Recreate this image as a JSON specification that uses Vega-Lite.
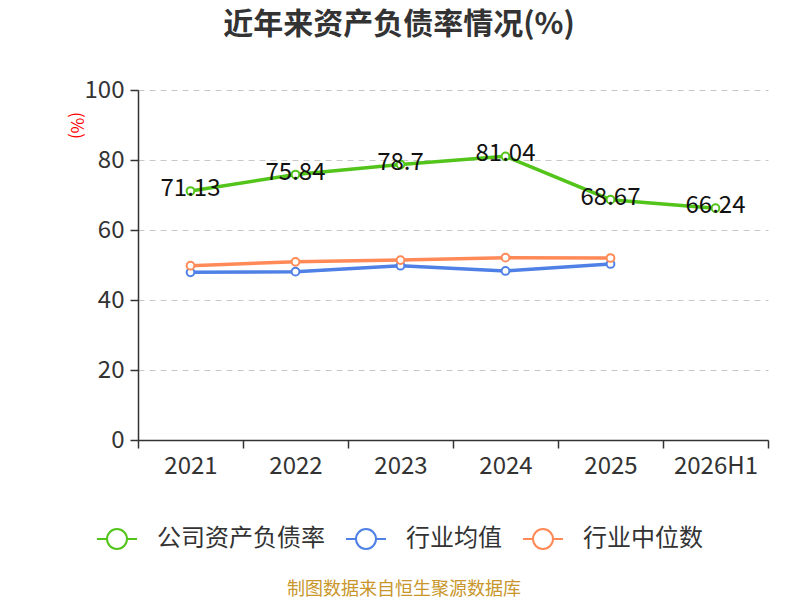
{
  "$schema": "https://vega.github.io/schema/vega-lite/v6.json",
  "width": 630,
  "height": 350,
  "padding": {"left": 67, "top": 10, "right": 20, "bottom": 5},
  "background": "#ffffff",
  "title": {
    "text": "近年来资产负债率情况(%)",
    "fontSize": 30,
    "fontWeight": "bold",
    "color": "#333333",
    "font": "Noto Sans CJK SC",
    "anchor": "middle",
    "dx": -54,
    "offset": 38
  },
  "data": {
    "values": [
      {"year": "2021", "series": "公司资产负债率", "value": 71.13},
      {"year": "2022", "series": "公司资产负债率", "value": 75.84},
      {"year": "2023", "series": "公司资产负债率", "value": 78.7},
      {"year": "2024", "series": "公司资产负债率", "value": 81.04},
      {"year": "2025", "series": "公司资产负债率", "value": 68.67},
      {"year": "2026H1", "series": "公司资产负债率", "value": 66.24},
      {"year": "2021", "series": "行业均值", "value": 47.9},
      {"year": "2022", "series": "行业均值", "value": 48.1},
      {"year": "2023", "series": "行业均值", "value": 49.8},
      {"year": "2024", "series": "行业均值", "value": 48.3},
      {"year": "2025", "series": "行业均值", "value": 50.3},
      {"year": "2021", "series": "行业中位数", "value": 49.8},
      {"year": "2022", "series": "行业中位数", "value": 50.9},
      {"year": "2023", "series": "行业中位数", "value": 51.4},
      {"year": "2024", "series": "行业中位数", "value": 52.1},
      {"year": "2025", "series": "行业中位数", "value": 52.0}
    ]
  },
  "encoding": {
    "x": {
      "field": "year",
      "type": "nominal",
      "sort": ["2021", "2022", "2023", "2024", "2025", "2026H1"],
      "title": null,
      "axis": {
        "labelAngle": 0,
        "tickBand": "extent",
        "tickSize": 8,
        "labelPadding": 6,
        "grid": false
      }
    },
    "y": {
      "field": "value",
      "type": "quantitative",
      "scale": {"domain": [0, 100]},
      "title": "(%)",
      "axis": {
        "values": [0, 20, 40, 60, 80, 100],
        "labelOverlap": false,
        "tickSize": 8,
        "labelPadding": 6,
        "grid": true,
        "gridDash": [6, 5],
        "gridColor": "#c8c8c8",
        "titleColor": "#ff0000",
        "titleFontSize": 17,
        "titleFontWeight": "normal",
        "titleAngle": 90,
        "titleAlign": "center",
        "titleBaseline": "middle",
        "titleX": -63,
        "titleY": 35
      }
    },
    "color": {
      "field": "series",
      "type": "nominal",
      "scale": {
        "domain": ["公司资产负债率", "行业均值", "行业中位数"],
        "range": ["#52c41a", "#4e80e6", "#ff8a57"]
      },
      "legend": {
        "orient": "none",
        "legendX": -33,
        "legendY": 437,
        "direction": "horizontal",
        "title": "制图数据来自恒生聚源数据库",
        "titleOrient": "bottom",
        "titleAnchor": "middle",
        "titleColor": "#c8962a",
        "titleFontSize": 18,
        "titleFontWeight": "normal",
        "titleLimit": 0,
        "titlePadding": 28,
        "symbolType": "M-2,0L-1,0M1,0L2,0M1,0A1,1 0 1,1 -1,0A1,1 0 1,1 1,0",
        "symbolSize": 400,
        "symbolStrokeWidth": 2,
        "symbolFillColor": "#ffffff",
        "labelFontSize": 24,
        "labelLimit": 0,
        "labelColor": "#333333",
        "labelOffset": 28,
        "columnPadding": 17
      }
    }
  },
  "layer": [
    {
      "mark": {"type": "line", "strokeWidth": 3.5}
    },
    {
      "mark": {"type": "point", "filled": false, "fill": "#ffffff", "fillOpacity": 1, "size": 60, "strokeWidth": 2, "opacity": 1}
    },
    {
      "transform": [{"filter": "datum.series == '公司资产负债率'"}],
      "mark": {"type": "text", "fontSize": 24, "dy": -2},
      "encoding": {
        "text": {"field": "value", "type": "quantitative"},
        "color": {"value": "#111111"}
      }
    }
  ],
  "config": {
    "font": "Noto Sans CJK SC",
    "view": {"stroke": null},
    "axis": {
      "labelFontSize": 24,
      "labelColor": "#333333",
      "domainColor": "#333333",
      "domainWidth": 1.5,
      "tickColor": "#333333",
      "tickWidth": 1.5
    }
  }
}
